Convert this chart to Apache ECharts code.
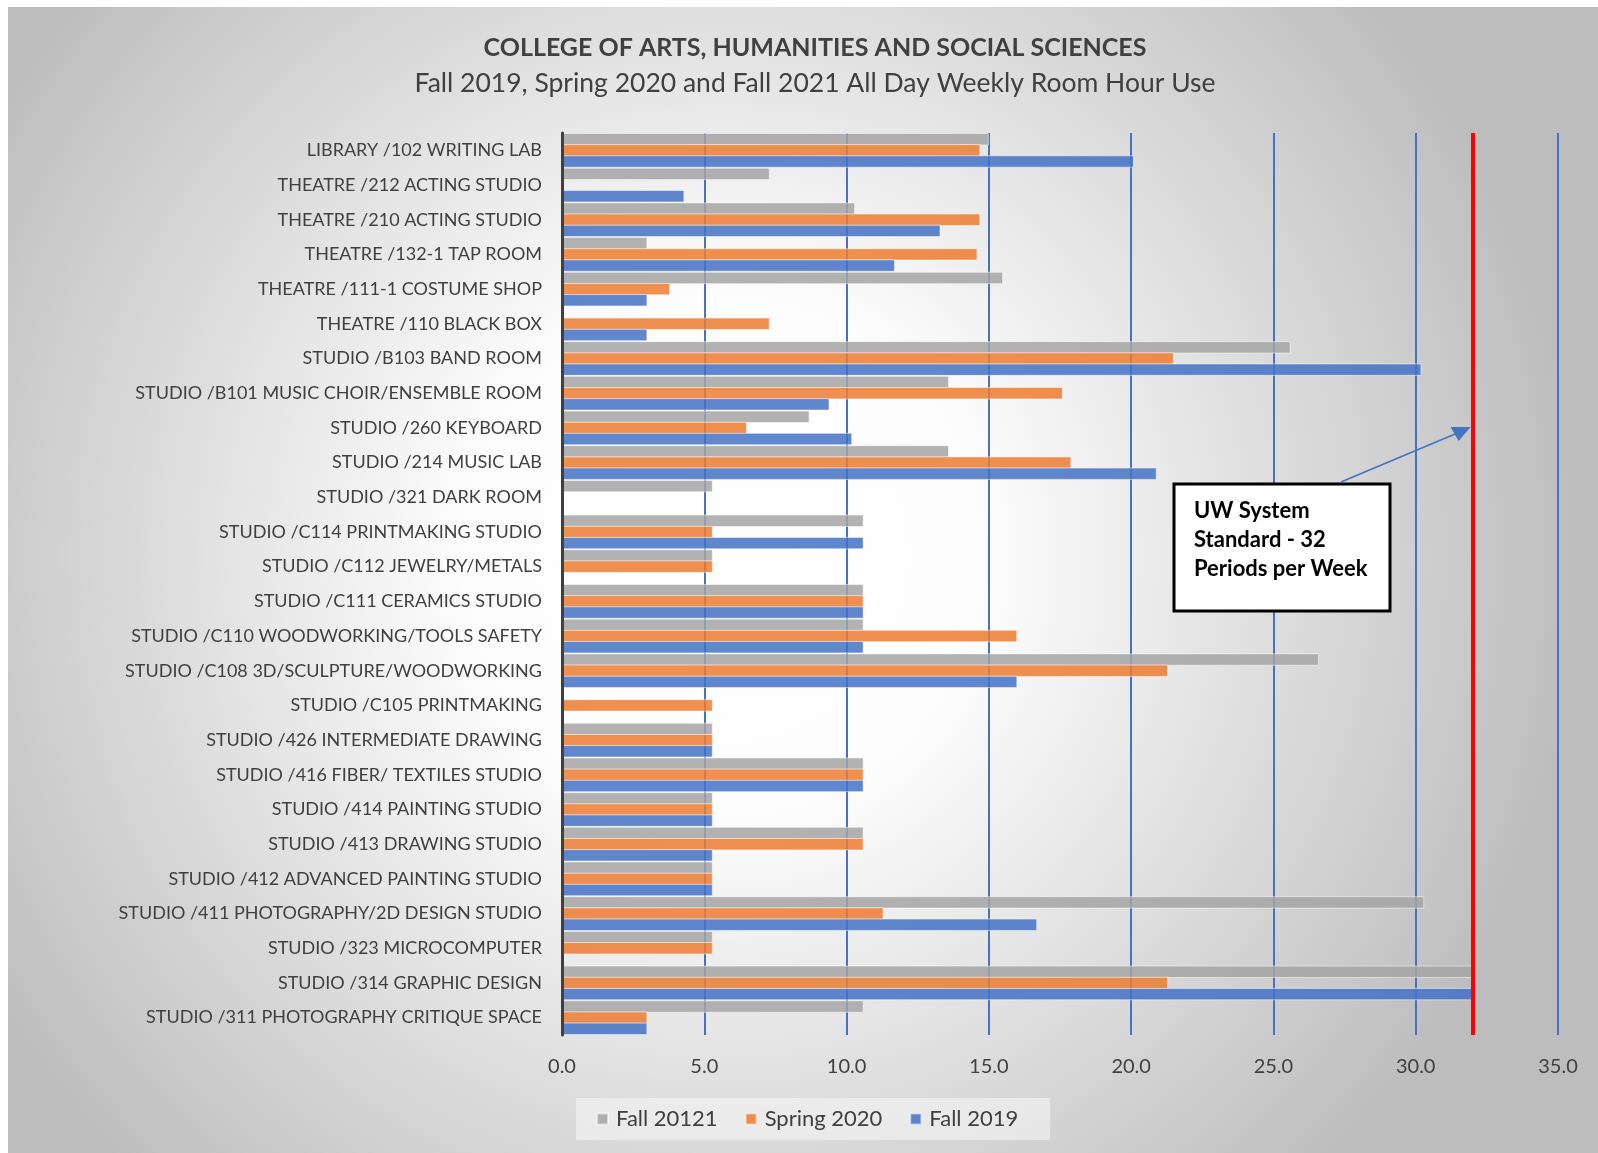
<!DOCTYPE html>
<html>
<head>
<meta charset="utf-8">
<script src="https://cdn.jsdelivr.net/npm/echarts@6/dist/echarts.min.js"></script>
<style>
  html, body { margin: 0; padding: 0; background: #fff; }
  #chart { width: 1598px; height: 1153px; }
</style>
</head>
<body>
<div id="chart"></div>
<script>
const categories = [
  'LIBRARY /102 WRITING LAB',
  'THEATRE /212 ACTING STUDIO',
  'THEATRE /210 ACTING STUDIO',
  'THEATRE /132-1 TAP ROOM',
  'THEATRE /111-1 COSTUME SHOP',
  'THEATRE /110 BLACK BOX',
  'STUDIO /B103 BAND ROOM',
  'STUDIO /B101 MUSIC CHOIR/ENSEMBLE ROOM',
  'STUDIO /260 KEYBOARD',
  'STUDIO /214 MUSIC LAB',
  'STUDIO /321 DARK ROOM',
  'STUDIO /C114 PRINTMAKING STUDIO',
  'STUDIO /C112 JEWELRY/METALS',
  'STUDIO /C111 CERAMICS STUDIO',
  'STUDIO /C110 WOODWORKING/TOOLS SAFETY',
  'STUDIO /C108 3D/SCULPTURE/WOODWORKING',
  'STUDIO /C105 PRINTMAKING',
  'STUDIO /426 INTERMEDIATE DRAWING',
  'STUDIO /416 FIBER/ TEXTILES STUDIO',
  'STUDIO /414 PAINTING STUDIO',
  'STUDIO /413 DRAWING STUDIO',
  'STUDIO /412 ADVANCED PAINTING STUDIO',
  'STUDIO /411 PHOTOGRAPHY/2D DESIGN STUDIO',
  'STUDIO /323 MICROCOMPUTER',
  'STUDIO /314 GRAPHIC DESIGN',
  'STUDIO /311 PHOTOGRAPHY CRITIQUE SPACE'
];

// '-' = no bar for that term
const fall2021 = [15.0, 7.3, 10.3, 3.0, 15.5, '-', 25.6, 13.6, 8.7, 13.6, 5.3, 10.6, 5.3,
  10.6, 10.6, 26.6, '-', 5.3, 10.6, 5.3, 10.6, 5.3, 30.3, 5.3, 32.0, 10.6];
const spring2020 = [14.7, '-', 14.7, 14.6, 3.8, 7.3, 21.5, 17.6, 6.5, 17.9, '-', 5.3, 5.3,
  10.6, 16.0, 21.3, 5.3, 5.3, 10.6, 5.3, 10.6, 5.3, 11.3, 5.3, 21.3, 3.0];
const fall2019 = [20.1, 4.3, 13.3, 11.7, 3.0, 3.0, 30.2, 9.4, 10.2, 20.9, '-', 10.6, '-',
  10.6, 10.6, 16.0, '-', 5.3, 10.6, 5.3, 5.3, 5.3, 16.7, '-', 32.0, 3.0];

const seriesNames = ['Fall 20121', 'Spring 2020', 'Fall 2019'];
const seriesColors = ['#A5A5A5', '#ED7D31', '#4472C4'];
const standardLine = 32;
const noteLines = ['UW System', 'Standard - 32', 'Periods per Week'];

const font = 'Lato, "Open Sans", sans-serif';
const chart = echarts.init(document.getElementById('chart'));

function barSeries(i, data) {
  return {
    name: seriesNames[i],
    type: 'bar',
    data: data,
    barGap: '-10%',
    barCategoryGap: '0%',
    itemStyle: {
      color: seriesColors[i],
      opacity: 0.85,
      borderColor: 'rgba(255,255,255,0.6)',
      borderWidth: 1
    }
  };
}

const series = [barSeries(0, fall2021), barSeries(1, spring2020), barSeries(2, fall2019)];
series[2].markLine = {
  silent: true,
  symbol: 'none',
  label: { show: false },
  lineStyle: { color: '#FF0000', width: 4, type: 'solid' },
  data: [{ xAxis: standardLine }]
};

const background = {
  type: 'rect',
  z: -10,
  shape: { x: 8, y: 7, width: 1590, height: 1146 },
  style: {
    fill: new echarts.graphic.RadialGradient(0.45, 0.48, 0.75, [
      { offset: 0, color: '#ffffff' },
      { offset: 0.3, color: '#fdfdfd' },
      { offset: 1, color: '#bdbdbd' }
    ])
  }
};

chart.setOption({
  animation: false,
  textStyle: { fontFamily: font },
  graphic: [background],
  title: {
    text: 'COLLEGE OF ARTS, HUMANITIES AND SOCIAL SCIENCES',
    subtext: 'Fall 2019, Spring 2020 and Fall 2021 All Day Weekly Room Hour Use',
    left: 810,
    textAlign: 'center',
    top: 30,
    itemGap: 10,
    textStyle: { fontFamily: font, fontSize: 25, fontWeight: 'bold', color: '#404040' },
    subtextStyle: { fontFamily: font, fontSize: 26.5, color: '#404040' }
  },
  legend: {
    data: seriesNames,
    left: 576,
    top: 1098,
    padding: [10, 32, 10, 20],
    itemGap: 27,
    itemWidth: 11,
    itemHeight: 11,
    icon: 'rect',
    backgroundColor: 'rgba(245,245,245,0.6)',
    textStyle: { fontFamily: font, fontSize: 22, color: '#404040', padding: [0, 0, 0, 3] }
  },
  grid: { left: 562, top: 133, width: 996, height: 902, containLabel: false },
  xAxis: {
    type: 'value',
    min: 0,
    max: 35,
    interval: 5,
    axisLine: { show: false },
    axisTick: { show: false },
    axisLabel: {
      margin: 22,
      fontSize: 20,
      color: '#404040',
      formatter: v => v.toFixed(1)
    },
    splitLine: { lineStyle: { color: '#4472C4', width: 2 } }
  },
  yAxis: {
    type: 'category',
    data: categories,
    inverse: true,
    z: 5,
    axisTick: { show: false },
    axisLine: { lineStyle: { color: '#404040', width: 3 } },
    axisLabel: { fontSize: 18, color: '#404040', margin: 20 }
  },
  series: series
});

// annotation box + arrow pointing at the standard line
const lineX = chart.convertToPixel({ xAxisIndex: 0 }, standardLine);
chart.setOption({
  graphic: [background, {
    type: 'rect',
    z: 100,
    shape: { x: 1174, y: 484, width: 216, height: 127 },
    style: { fill: '#fff', stroke: '#000', lineWidth: 3 }
  }, {
    type: 'text',
    z: 101,
    left: 1194,
    top: 496,
    style: {
      text: noteLines.join('\n'),
      font: 'bold 22px ' + font,
      lineHeight: 29,
      fill: '#000'
    }
  }, {
    type: 'line',
    z: 101,
    shape: { x1: 1341, y1: 482, x2: lineX - 8, y2: 430 },
    style: { stroke: '#4472C4', lineWidth: 1.5 }
  }, {
    type: 'polygon',
    z: 101,
    shape: { points: [[lineX - 2, 427], [lineX - 22, 427], [lineX - 14, 441]] },
    style: { fill: '#4472C4' }
  }]
});
</script>
</body>
</html>
